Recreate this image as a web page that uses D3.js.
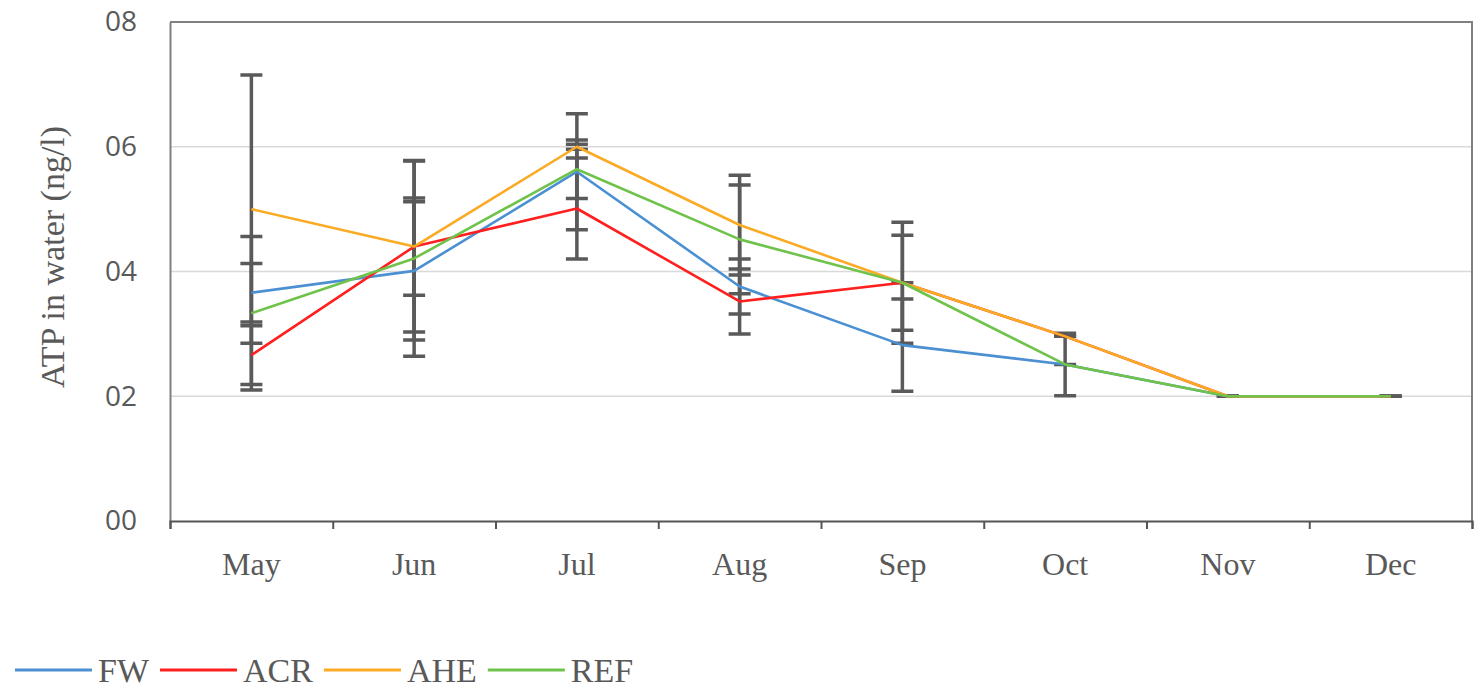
<!DOCTYPE html>
<html>
<head>
<meta charset="utf-8">
<script src="https://cdn.jsdelivr.net/npm/d3@7"></script>
<style>
  html, body { margin: 0; padding: 0; background: #fff; }
  svg { display: block; }
</style>
</head>
<body>
<div id="chart"></div>
<script>
const months = ["May", "Jun", "Jul", "Aug", "Sep", "Oct", "Nov", "Dec"];
const seriesNames = ["FW", "ACR", "AHE", "REF"];
const seriesColors = ["#4a90d2", "#ff1f1f", "#fbaa24", "#6fc24a"];

// means
const fwValues = [0.366, 0.401, 0.560, 0.376, 0.282, 0.251, 0.20, 0.20];
const acrValues = [0.266, 0.440, 0.501, 0.352, 0.382, 0.296, 0.20, 0.20];
const aheValues = [0.500, 0.440, 0.600, 0.4745, 0.382, 0.296, 0.20, 0.20];
const refValues = [0.333, 0.421, 0.564, 0.4515, 0.382, 0.251, 0.20, 0.20];

// error bar half-lengths
const fwErr = [0.047, 0.111, 0.093, 0.044, 0.074, 0, 0, 0];
const acrErr = [0.047, 0.078, 0.081, 0.052, 0, 0, 0, 0];
const aheErr = [0.215, 0.137, 0.004, 0.080, 0.097, 0, 0, 0];
const refErr = [0.123, 0.157, 0.047, 0.087, 0.076, 0.05, 0, 0];

const yTicks = [0, 0.2, 0.4, 0.6, 0.8];
const yTickLabels = ["00", "02", "04", "06", "08"];
const yTitle = "ATP in water (ng/l)";

const width = 1479, height = 691;
const margin = { top: 22, right: 7, bottom: 170, left: 170 };
const innerW = width - margin.left - margin.right;
const innerH = height - margin.top - margin.bottom;

const series = seriesNames.map((name, i) => ({
  name,
  color: seriesColors[i],
  values: [fwValues, acrValues, aheValues, refValues][i],
  err: [fwErr, acrErr, aheErr, refErr][i],
}));

const svg = d3.select("#chart").append("svg").attr("width", width).attr("height", height);
const g = svg.append("g").attr("transform", `translate(${margin.left},${margin.top})`);

const x = d3.scaleBand().domain(months).range([0, innerW]).padding(0);
const xEdge = d3.scaleLinear().domain([0, months.length]).range([0, innerW]);
const y = d3.scaleLinear().domain([0, 0.8]).range([innerH, 0]);
const cx = (m) => x(m) + x.bandwidth() / 2;

// gridlines
g.append("g")
  .selectAll("line")
  .data(yTicks.slice(1, -1))
  .join("line")
  .attr("x1", 0)
  .attr("x2", innerW)
  .attr("y1", (d) => y(d))
  .attr("y2", (d) => y(d))
  .attr("stroke", "#d9d9d9")
  .attr("stroke-width", 1.5);

// frame (top and right)
g.append("path")
  .attr("d", `M0,0H${innerW}V${innerH}`)
  .attr("fill", "none")
  .attr("stroke", "#808080")
  .attr("stroke-width", 2);

// error bars
const errData = series.flatMap((s) =>
  months.map((m, i) => ({ m, v: s.values[i], e: s.err[i] }))
);
const capHalf = 11;
const eb = g.append("g").attr("stroke", "#5a5a5a").attr("stroke-width", 3.5).attr("fill", "none");
errData.forEach((d) => {
  const px = cx(d.m);
  const hi = y(d.v + d.e), lo = y(d.v - d.e);
  eb.append("path").attr("d", `M${px},${hi}V${lo}M${px - capHalf},${hi}H${px + capHalf}M${px - capHalf},${lo}H${px + capHalf}`);
});

// lines
const line = d3.line().x((d) => cx(d.m)).y((d) => y(d.v));
g.append("g")
  .selectAll("path")
  .data(series)
  .join("path")
  .attr("d", (s) => line(months.map((m, i) => ({ m, v: s.values[i] }))))
  .attr("fill", "none")
  .attr("stroke", (s) => s.color)
  .attr("stroke-width", 2.6)
  .attr("stroke-linejoin", "round");

// y axis
const yAxis = g.append("g")
  .call(d3.axisLeft(y).tickValues(yTicks).tickSize(0).tickPadding(33).tickFormat((d, i) => yTickLabels[i]));
yAxis.select(".domain").attr("stroke", "#808080").attr("stroke-width", 2);
yAxis.selectAll("text")
  .attr("font-family", "'Open Sans', sans-serif")
  .attr("font-size", 28)
  .attr("fill", "#595959");

// x axis: labels
const xAxis = g.append("g")
  .attr("transform", `translate(0,${innerH})`)
  .call(d3.axisBottom(x).tickSize(0).tickPadding(31));
xAxis.select(".domain").remove();
xAxis.selectAll("text")
  .attr("font-family", "'Liberation Serif', serif")
  .attr("font-size", 32)
  .attr("fill", "#595959");

// x axis: boundary ticks
const xTicks = g.append("g")
  .attr("transform", `translate(0,${innerH})`)
  .call(d3.axisBottom(xEdge).ticks(months.length).tickSize(8).tickFormat(""));
xTicks.select(".domain").attr("stroke", "#555").attr("stroke-width", 2);
xTicks.selectAll("line").attr("stroke", "#555").attr("stroke-width", 2);

// y title
svg.append("text")
  .attr("transform", "translate(64,257) rotate(-90)")
  .attr("text-anchor", "middle")
  .attr("font-family", "'Liberation Serif', serif")
  .attr("font-size", 34)
  .attr("fill", "#595959")
  .text(yTitle);

// legend
const legend = svg.append("g").attr("transform", "translate(15,670)");
let lx = 0;
series.forEach((s) => {
  legend.append("line")
    .attr("x1", lx).attr("x2", lx + 77)
    .attr("y1", 0).attr("y2", 0)
    .attr("stroke", s.color).attr("stroke-width", 3);
  const t = legend.append("text")
    .attr("x", lx + 83)
    .attr("y", 12)
    .attr("font-family", "'Liberation Serif', serif")
    .attr("font-size", 34)
    .attr("fill", "#595959")
    .text(s.name);
  lx += 83 + t.node().getComputedTextLength() + 11;
});
</script>
</body>
</html>
